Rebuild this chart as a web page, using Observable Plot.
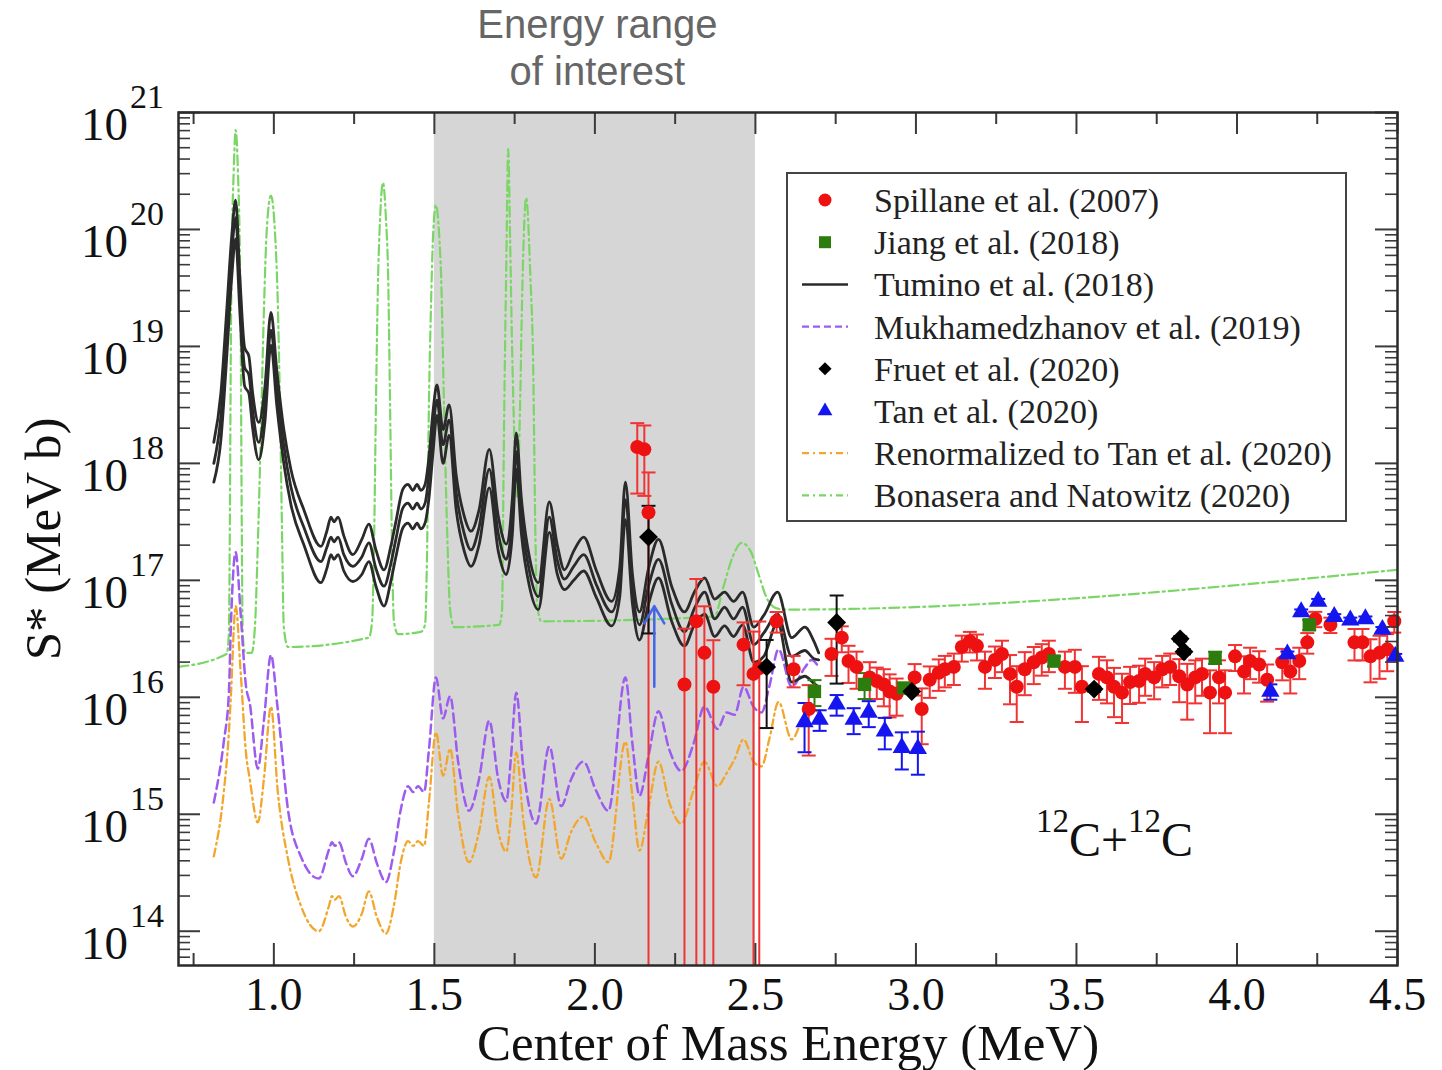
<!DOCTYPE html>
<html><head><meta charset="utf-8">
<script src="https://cdn.jsdelivr.net/npm/d3@7"></script>
<script src="https://cdn.jsdelivr.net/npm/@observablehq/plot@0.6"></script>
<style>body{margin:0;background:#fff;}#chart{width:1442px;height:1070px;}</style>
</head><body><div id="chart"></div>
<script>
// ---------------- DATA (S* given as log10 values) ----------------
const xTickValues = [1.0,1.5,2.0,2.5,3.0,3.5,4.0,4.5];
const xTickLabels = ["1.0","1.5","2.0","2.5","3.0","3.5","4.0","4.5"];
const xMinorValues = [0.75,1.25,1.75,2.25,2.75,3.25,3.75,4.25];
const yDecades = [14,15,16,17,18,19,20,21];
const interestBand = [1.5, 2.5];

// Tumino et al. (2018): central curve and the two band edges
const tuminoE = [0.813,0.835,0.853,0.869,0.881,0.894,0.909,0.922,0.934,0.953,0.972,0.991,1.009,1.031,1.053,1.094,1.147,1.165,1.178,1.187,1.200,1.218,1.246,1.274,1.296,1.318,1.343,1.365,1.380,1.402,1.418,1.433,1.446,1.458,1.471,1.483,1.496,1.508,1.527,1.546,1.568,1.593,1.614,1.639,1.671,1.699,1.724,1.743,1.755,1.771,1.796,1.824,1.858,1.883,1.905,1.934,1.965,2.005,2.052,2.077,2.095,2.117,2.139,2.167,2.198,2.239,2.279,2.310,2.342,2.373,2.404,2.432,2.460,2.495,2.526,2.569,2.613,2.654,2.682,2.697];
const tuminoMid = [18.00,18.40,19.10,19.80,20.10,19.45,18.82,18.76,18.45,18.18,18.50,19.14,18.65,18.15,17.80,17.45,17.16,17.28,17.37,17.33,17.37,17.22,17.12,17.20,17.32,17.10,16.95,17.15,17.35,17.62,17.66,17.61,17.66,17.61,17.66,17.90,18.30,18.54,18.16,18.37,17.75,17.40,17.26,17.45,17.95,17.40,17.18,17.55,18.10,17.55,17.08,16.86,17.54,17.17,17.01,17.12,17.22,16.96,16.73,16.98,17.69,16.92,16.62,16.95,17.18,16.80,16.56,16.76,16.90,16.67,16.77,16.67,16.77,16.45,16.55,16.71,16.35,16.40,16.33,16.32];
const tuminoLow = [17.84,18.20,18.90,19.60,19.92,19.30,18.66,18.60,18.30,18.03,18.35,19.01,18.50,18.00,17.65,17.30,16.98,17.10,17.22,17.18,17.22,17.08,16.99,17.05,17.16,16.95,16.78,17.00,17.20,17.45,17.49,17.44,17.49,17.44,17.49,17.70,18.10,18.41,18.00,18.24,17.60,17.25,17.12,17.30,17.79,17.25,17.05,17.40,17.95,17.40,16.95,16.75,17.41,17.05,16.92,17.00,17.08,16.85,16.61,16.85,17.52,16.80,16.49,16.80,17.02,16.65,16.44,16.62,16.71,16.52,16.61,16.52,16.62,16.30,16.35,16.64,16.13,16.18,16.12,16.09];
const tuminoHigh = [18.18,18.60,19.30,19.95,20.25,19.60,18.99,18.92,18.60,18.35,18.65,19.29,18.80,18.29,17.95,17.60,17.29,17.42,17.54,17.50,17.54,17.38,17.22,17.35,17.48,17.26,17.09,17.30,17.50,17.78,17.82,17.77,17.82,17.77,17.82,18.05,18.45,18.67,18.29,18.50,17.90,17.55,17.42,17.60,18.12,17.55,17.31,17.70,18.26,17.70,17.20,16.98,17.67,17.30,17.09,17.25,17.37,17.08,16.82,17.10,17.84,17.05,16.73,17.10,17.35,16.95,16.73,16.90,17.02,16.84,16.90,16.82,16.90,16.60,16.70,16.90,16.51,16.60,16.48,16.38];

// Mukhamedzhanov et al. (2019) and Renormalized to Tan et al. (2020)
const modelE = [0.813,0.844,0.860,0.866,0.881,0.897,0.913,0.925,0.950,0.969,0.991,1.012,1.044,1.084,1.140,1.172,1.181,1.190,1.203,1.225,1.246,1.274,1.296,1.321,1.349,1.374,1.396,1.418,1.434,1.449,1.468,1.483,1.505,1.527,1.549,1.574,1.608,1.639,1.671,1.699,1.724,1.739,1.755,1.777,1.817,1.858,1.895,1.926,1.964,2.004,2.042,2.095,2.117,2.139,2.167,2.198,2.232,2.269,2.307,2.341,2.382,2.410,2.435,2.463,2.494,2.519,2.544,2.572,2.613,2.653,2.675,2.697];
const mukhamedzhanovS = [15.10,15.62,16.04,16.6,17.24,16.7,16.10,15.95,15.39,15.8,16.36,15.9,15.04,14.64,14.45,14.70,14.76,14.73,14.76,14.58,14.47,14.62,14.79,14.58,14.42,14.68,15.05,15.24,15.19,15.24,15.19,15.55,16.17,15.82,16.01,15.45,15.03,15.3,15.80,15.3,15.11,15.5,16.04,15.4,14.92,15.58,15.07,15.3,15.45,15.2,15.03,16.17,15.6,15.16,15.5,15.88,15.55,15.37,15.6,15.92,15.73,15.87,15.85,16.09,15.92,15.87,16.1,16.41,16.09,16.25,16.32,16.26];
const renormalizedS = [14.64,15.19,15.7,16.0,16.78,16.2,15.53,15.3,14.93,15.3,15.92,15.2,14.62,14.22,14.00,14.22,14.30,14.27,14.30,14.12,14.04,14.15,14.34,14.12,13.98,14.22,14.60,14.77,14.73,14.77,14.73,15.1,15.70,15.33,15.56,15.0,14.59,14.85,15.32,14.85,14.68,15.0,15.53,14.95,14.46,15.13,14.62,14.85,14.98,14.75,14.59,15.62,15.15,14.69,15.05,15.45,15.1,14.92,15.2,15.45,15.24,15.35,15.47,15.64,15.45,15.41,15.65,15.96,15.64,15.85,15.90,15.87];

// Bonasera and Natowitz (2020)
const bonaseraE = [0.703,0.853,0.860,0.863,0.866,0.869,0.875,0.881,0.888,0.894,0.897,0.900,0.903,0.910,
 0.931,0.941,0.950,0.959,0.969,0.978,0.991,1.003,1.012,1.019,1.025,1.031,1.044,
 1.296,1.306,1.312,1.318,1.324,1.331,1.340,1.349,1.356,1.362,1.368,1.374,1.387,
 1.458,1.471,1.477,1.483,1.490,1.496,1.505,1.515,1.521,1.530,1.540,1.549,1.562,
 1.702,1.711,1.714,1.717,1.724,1.730,1.736,1.742,1.752,1.758,1.767,1.774,1.786,1.799,1.808,1.814,1.820,1.833,
 2.372,2.401,2.429,2.457,2.485,2.510,2.535,2.566,2.594,4.5];
const bonaseraS = [16.26,16.37,16.55,17.5,19.0,19.8,20.5,20.85,20.5,19.8,19.0,17.5,16.55,16.38,
 16.38,16.6,17.3,18.2,19.3,20.0,20.29,20.0,19.4,18.5,17.5,16.6,16.43,
 16.51,16.65,17.3,18.5,19.5,20.1,20.40,20.1,19.6,18.5,17.3,16.65,16.54,
 16.56,16.62,17.2,18.5,19.4,19.95,20.21,19.95,19.6,18.5,17.4,16.75,16.60,
 16.62,16.75,17.5,18.3,19.7,20.69,19.9,19.0,18.0,17.7,18.5,19.5,20.27,19.6,18.8,17.5,16.8,16.65,
 16.69,16.95,17.20,17.32,17.25,17.05,16.85,16.76,16.75,17.09];

// Spillane et al. (2007): energy, log10 S*, relative error
const spillaneE = [2.132,2.154,2.167,2.279,2.316,2.341,2.369,2.463,2.494,2.512,2.566,2.619,2.666,2.737,2.769,2.790,2.815,2.856,2.878,2.900,2.918,2.940,2.996,3.018,3.043,3.071,3.090,3.118,3.143,3.168,3.190,3.215,3.246,3.268,3.293,3.314,3.339,3.367,3.392,3.414,3.464,3.495,3.517,3.570,3.595,3.617,3.642,3.667,3.695,3.714,3.742,3.767,3.792,3.820,3.845,3.870,3.891,3.916,3.944,3.963,3.994,4.022,4.041,4.069,4.094,4.141,4.166,4.194,4.219,4.244,4.291,4.366,4.391,4.416,4.444,4.468,4.490];
const spillaneS = [18.14,18.12,17.58,16.11,16.65,16.38,16.09,16.45,16.20,16.25,16.65,16.24,15.90,16.37,16.51,16.31,16.26,16.17,16.14,16.11,16.05,16.03,16.17,15.90,16.15,16.21,16.24,16.26,16.43,16.48,16.44,16.26,16.32,16.37,16.20,16.09,16.24,16.30,16.34,16.37,16.26,16.26,16.09,16.20,16.17,16.09,16.04,16.13,16.14,16.20,16.17,16.24,16.26,16.18,16.11,16.17,16.20,16.04,16.17,16.04,16.35,16.22,16.31,16.28,16.15,16.30,16.22,16.31,16.47,16.67,16.62,16.47,16.47,16.35,16.38,16.41,16.65];
const spillaneErr = [0.6,0.6,1.2,2.0,1.3,1.5,1.5,0.55,1.3,1.5,0.2,0.3,0.6,0.35,0.25,0.35,0.35,0.35,0.3,0.35,0.4,0.35,0.3,0.5,0.3,0.3,0.3,0.3,0.25,0.2,0.25,0.35,0.3,0.3,0.45,0.5,0.4,0.35,0.3,0.3,0.35,0.4,0.5,0.4,0.4,0.45,0.45,0.35,0.35,0.35,0.35,0.3,0.3,0.4,0.5,0.4,0.35,0.55,0.4,0.55,0.25,0.35,0.3,0.3,0.35,0.3,0.35,0.3,0.2,0.15,0.15,0.3,0.3,0.4,0.4,0.35,0.2];

// Jiang et al. (2018)
const jiangE = [2.684,2.840,2.962,3.430,3.932,4.225];
const jiangS = [16.05,16.11,16.08,16.31,16.34,16.62];
const jiangErr = [0.25,0.25,0.1,0.1,0.12,0.1];

// Fruet et al. (2020)
const fruetE = [2.167,2.535,2.753,2.987,3.555,3.823,3.835];
const fruetS = [17.37,16.26,16.64,16.05,16.07,16.50,16.39];
const fruetErr = [0.85,0.7,0.7,0.05,0.05,0.05,0.05];

// Tan et al. (2020)
const tanE = [2.653,2.700,2.753,2.806,2.853,2.903,2.956,3.006,4.104,4.157,4.200,4.253,4.303,4.353,4.400,4.453,4.493];
const tanS = [15.79,15.81,15.94,15.81,15.87,15.71,15.57,15.56,16.05,16.37,16.73,16.82,16.69,16.66,16.67,16.58,16.35];
const tanErr = [0.45,0.2,0.2,0.25,0.25,0.3,0.35,0.4,0.15,0.05,0.05,0.05,0.05,0.05,0.05,0.05,0.05];
const tanLimitE = [2.185], tanLimitFrom = [16.09], tanLimitTo = [16.78];

const legendLabels = ["Spillane et al. (2007)","Jiang et al. (2018)","Tumino et al. (2018)","Mukhamedzhanov et al. (2019)","Fruet et al. (2020)","Tan et al. (2020)","Renormalized to Tan et al. (2020)","Bonasera and Natowitz (2020)"];

// ---------------- STYLE ----------------
const W = 1442, H = 1070, ML = 178, MR = 45, MT = 112, MB = 105;
const plotW = W - ML - MR, plotH = H - MT - MB;
const serif = "'Liberation Serif', 'Times New Roman', serif";
const C = {red:"#ee1111", redBar:"#f03434", purple:"#9d5cf0", orange:"#f2a62b", green:"#7ad665",
  dkgreen:"#2d7d0e", blue:"#1515f0", arrow:"#4466e6", black:"#2a2a2a", band:"#d6d6d6", tick:"#3a3a3a"};

const line = (E, V) => E.map((e, i) => ({E: e, S: 10 ** V[i]}));
const pts = (E, V, R) => E.map((e, i) => {
  const S = 10 ** V[i];
  return {E: e, S, hi: S * (1 + R[i]), lo: (1 - R[i]) > 0 ? S * (1 - R[i]) : 1e10, capLo: (1 - R[i]) > 0};
});
const spRows = pts(spillaneE, spillaneS, spillaneErr);
const jiRows = pts(jiangE, jiangS, jiangErr);
const frRows = pts(fruetE, fruetS, fruetErr);
const taRows = pts(tanE, tanS, tanErr);
const limRows = tanLimitE.map((e, i) => ({E: e, a: 10 ** tanLimitFrom[i], b: 10 ** tanLimitTo[i]}));

const cap = {draw(ctx, size) { const r = Math.sqrt(size / Math.PI); ctx.moveTo(-r, 0); ctx.lineTo(r, 0); }};
const errMarks = (rows, color, w) => [
  Plot.ruleX(rows, {x: "E", y1: "lo", y2: "hi", stroke: color, strokeWidth: w, clip: true}),
  Plot.dot(rows, {x: "E", y: "hi", symbol: cap, r: 7, stroke: color, strokeWidth: w, fill: "none"}),
  Plot.dot(rows.filter(d => d.capLo), {x: "E", y: "lo", symbol: cap, r: 7, stroke: color, strokeWidth: w, fill: "none"})
];

const yMajor = yDecades.map(d => 10 ** d);
const yMinor = [];
for (const d of [13, ...yDecades]) for (let k = 2; k <= 9; k++) { const v = k * 10 ** d; if (v > 10 ** 13.707 && v < 1e21) yMinor.push(v); }

const chart = Plot.plot({
  width: W, height: H, marginLeft: ML, marginRight: MR, marginTop: MT, marginBottom: MB,
  style: {fontFamily: serif, background: "white", overflow: "visible"},
  x: {domain: [0.703, 4.5], axis: null},
  y: {type: "log", domain: [10 ** 13.707, 1e21], axis: null},
  marks: [
    Plot.rect([interestBand], {x1: d => d[0], x2: d => d[1], fill: C.band}),
    Plot.line(line(bonaseraE, bonaseraS), {x: "E", y: "S", stroke: C.green, strokeWidth: 2.2, strokeDasharray: "10,4,2,4", curve: "monotone-x", clip: true}),
    Plot.line(line(modelE, renormalizedS), {x: "E", y: "S", stroke: C.orange, strokeWidth: 2.3, strokeDasharray: "8,4,2,4", curve: "monotone-x"}),
    Plot.line(line(modelE, mukhamedzhanovS), {x: "E", y: "S", stroke: C.purple, strokeWidth: 2.5, strokeDasharray: "9,5", curve: "monotone-x"}),
    Plot.line(line(tuminoE, tuminoLow), {x: "E", y: "S", stroke: C.black, strokeWidth: 2.8, curve: "monotone-x"}),
    Plot.line(line(tuminoE, tuminoMid), {x: "E", y: "S", stroke: C.black, strokeWidth: 2.8, curve: "monotone-x"}),
    Plot.line(line(tuminoE, tuminoHigh), {x: "E", y: "S", stroke: C.black, strokeWidth: 2.8, curve: "monotone-x"}),
    ...errMarks(spRows, C.redBar, 2),
    ...errMarks(jiRows, C.dkgreen, 2),
    ...errMarks(frRows, "#111", 2),
    ...errMarks(taRows, C.blue, 2),
    Plot.arrow(limRows, {x1: "E", x2: "E", y1: "a", y2: "b", stroke: C.arrow, strokeWidth: 2.5, headLength: 12}),
    Plot.dot(spRows, {x: "E", y: "S", r: 7, fill: C.red}),
    Plot.dot(jiRows, {x: "E", y: "S", symbol: "square", r: 7.5, fill: C.dkgreen}),
    Plot.dot(frRows, {x: "E", y: "S", symbol: "diamond2", r: 8.5, fill: "#000"}),
    Plot.dot(taRows, {x: "E", y: "S", symbol: "triangle", r: 6.8, fill: C.blue}),
    // inward ticks on all four sides
    Plot.tickX(xTickValues, {x: d => d, stroke: C.tick, strokeWidth: 2, insetTop: plotH - 22}),
    Plot.tickX(xTickValues, {x: d => d, stroke: C.tick, strokeWidth: 2, insetBottom: plotH - 22}),
    Plot.tickX(xMinorValues, {x: d => d, stroke: C.tick, strokeWidth: 2, insetTop: plotH - 12}),
    Plot.tickX(xMinorValues, {x: d => d, stroke: C.tick, strokeWidth: 2, insetBottom: plotH - 12}),
    Plot.tickY(yMajor, {y: d => d, stroke: C.tick, strokeWidth: 2, insetRight: plotW - 22}),
    Plot.tickY(yMajor, {y: d => d, stroke: C.tick, strokeWidth: 2, insetLeft: plotW - 22}),
    Plot.tickY(yMinor, {y: d => d, stroke: C.tick, strokeWidth: 1.6, insetRight: plotW - 12}),
    Plot.tickY(yMinor, {y: d => d, stroke: C.tick, strokeWidth: 1.6, insetLeft: plotW - 12}),
    Plot.frame({stroke: "#2a2a2a", strokeWidth: 2.5}),
    Plot.text(xTickValues, {x: d => d, text: (d, i) => xTickLabels[i], frameAnchor: "bottom", dy: 44, fontSize: 46, fontFamily: serif, fill: "#111"}),
    Plot.text(["Center of Mass Energy (MeV)"], {frameAnchor: "bottom", dy: 94, fontSize: 51, fontFamily: serif, fill: "#111"}),
    Plot.text(["S* (MeV b)"], {frameAnchor: "left", textAnchor: "middle", dx: -135, rotate: -90, fontSize: 51, fontFamily: serif, fill: "#111"})
  ]
});
document.getElementById("chart").appendChild(chart);

// ---------------- annotations drawn with the plot's scales ----------------
const svg = d3.select(chart);
const xs = chart.scale("x"), ys = chart.scale("y");
const ann = svg.append("g").attr("font-family", serif).attr("fill", "#111");
yDecades.forEach(d => {
  const py = ys.apply(10 ** d);
  ann.append("text").attr("x", ML - 50).attr("y", py + 28).attr("text-anchor", "end").attr("font-size", 47).text("10");
  ann.append("text").attr("x", ML - 48).attr("y", py - 4).attr("text-anchor", "start").attr("font-size", 34).text(String(d));
});
// title above the plot
const tx = xs.apply(2.0) + 3;
const title = svg.append("g").attr("font-family", "'Liberation Sans', Arial, sans-serif").attr("font-size", 40).attr("fill", "#666").attr("text-anchor", "middle");
title.append("text").attr("x", tx).attr("y", 38).text("Energy range");
title.append("text").attr("x", tx).attr("y", 85).text("of interest");
// reaction label
const rl = ann.append("text").attr("x", xs.apply(3.62)).attr("y", ys.apply(10 ** 14.64)).attr("text-anchor", "middle").attr("font-size", 48);
rl.append("tspan").attr("font-size", 33).attr("dy", -24).text("12");
rl.append("tspan").attr("dy", 24).text("C+");
rl.append("tspan").attr("font-size", 33).attr("dy", -24).text("12");
rl.append("tspan").attr("dy", 24).text("C");

// legend
const L = svg.append("g");
L.append("rect").attr("x", 787).attr("y", 173).attr("width", 559).attr("height", 348).attr("fill", "white").attr("stroke", "#444").attr("stroke-width", 2);
const sx = 825;
legendLabels.forEach((lab, i) => {
  const cy = 200 + i * 42.2;
  const g = L.append("g");
  if (i === 0) g.append("circle").attr("cx", sx).attr("cy", cy).attr("r", 6.5).attr("fill", C.red);
  if (i === 1) g.append("rect").attr("x", sx - 6).attr("y", cy - 6).attr("width", 12).attr("height", 12).attr("fill", C.dkgreen);
  if (i === 2) g.append("line").attr("x1", 802).attr("x2", 848).attr("y1", cy).attr("y2", cy).attr("stroke", C.black).attr("stroke-width", 2.5);
  if (i === 3) g.append("line").attr("x1", 802).attr("x2", 848).attr("y1", cy).attr("y2", cy).attr("stroke", C.purple).attr("stroke-width", 2.2).attr("stroke-dasharray", "7,4");
  if (i === 4) g.append("path").attr("transform", `translate(${sx},${cy})`).attr("d", d3.symbol(d3.symbolDiamond2, 110)()).attr("fill", "#000");
  if (i === 5) g.append("path").attr("transform", `translate(${sx},${cy})`).attr("d", d3.symbol(d3.symbolTriangle, 95)()).attr("fill", C.blue);
  if (i === 6) g.append("line").attr("x1", 802).attr("x2", 848).attr("y1", cy).attr("y2", cy).attr("stroke", C.orange).attr("stroke-width", 2.2).attr("stroke-dasharray", "7,4,2,4");
  if (i === 7) g.append("line").attr("x1", 802).attr("x2", 848).attr("y1", cy).attr("y2", cy).attr("stroke", C.green).attr("stroke-width", 2.2).attr("stroke-dasharray", "7,4,2,4");
  L.append("text").attr("x", 874).attr("y", cy + 12).attr("text-anchor", "start").attr("font-family", serif).attr("font-size", 34).attr("fill", "#222").text(lab);
});
</script>
</body></html>
